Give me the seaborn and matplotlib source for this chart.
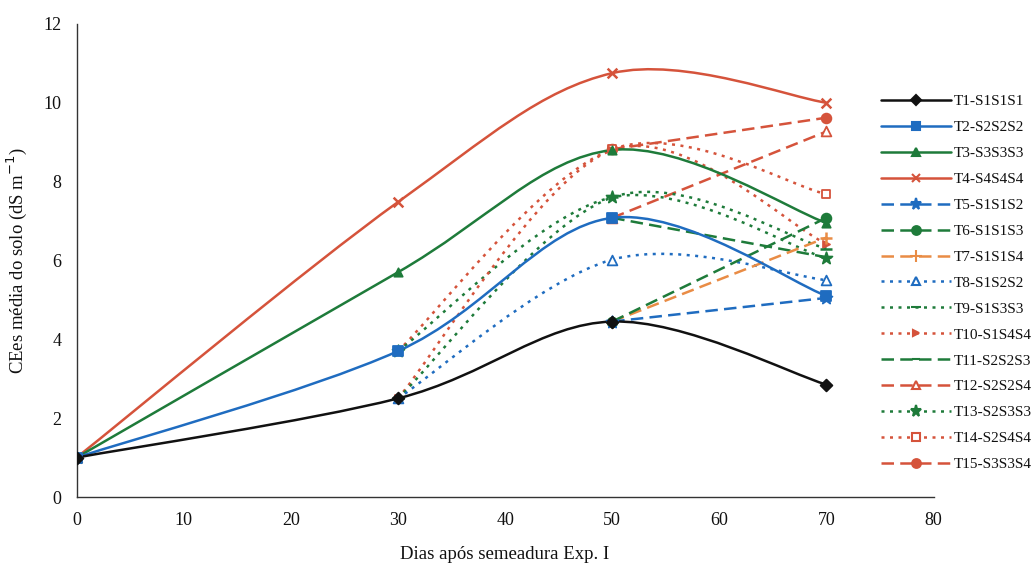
import numpy as np
import pandas as pd
import seaborn as sns
from matplotlib import pyplot as plt
from matplotlib.path import Path
from matplotlib.patches import PathPatch
from matplotlib.lines import Line2D

# days after sowing
days = [0, 30, 50, 70]
nan = np.nan

# mean soil ECes (dS m-1) for each treatment
t1 = [1.0, 2.5, 4.45, 2.85]
t2 = [1.0, 3.7, 7.08, 5.1]
t3 = [1.0, 5.7, 8.8, 6.95]
t4 = [1.0, 7.48, 10.75, 10.0]
t5 = [nan, nan, 4.45, 5.05]
t6 = [nan, nan, 4.45, 7.08]
t7 = [nan, nan, 4.45, 6.58]
t8 = [nan, 2.5, 6.02, 5.5]
t9 = [nan, 2.5, 7.6, 6.3]
t10 = [nan, 2.5, 8.8, 6.42]
t11 = [nan, nan, 7.08, 6.08]
t12 = [nan, nan, 7.08, 9.27]
t13 = [nan, 3.7, 7.6, 6.05]
t14 = [nan, 3.7, 8.82, 7.68]
t15 = [nan, nan, 8.82, 9.62]

labels = ['T1-S1S1S1', 'T2-S2S2S2', 'T3-S3S3S3', 'T4-S4S4S4', 'T5-S1S1S2',
          'T6-S1S1S3', 'T7-S1S1S4', 'T8-S1S2S2', 'T9-S1S3S3', 'T10-S1S4S4',
          'T11-S2S2S3', 'T12-S2S2S4', 'T13-S2S3S3', 'T14-S2S4S4', 'T15-S3S3S4']
values = [t1, t2, t3, t4, t5, t6, t7, t8, t9, t10, t11, t12, t13, t14, t15]

BLACK, BLUE, GREEN, RED, ORANGE = '#111111', '#1f6cc0', '#1e7b3a', '#d5533b', '#e98c45'
SOLID, DASH, DOT = '-', (0, (5, 2.5)), (0, (1.2, 2.2))

# color, linestyle, marker, marker size, hollow
styles = [
    (BLACK, SOLID, 'D', 6, False),
    (BLUE, SOLID, 's', 7, False),
    (GREEN, SOLID, '^', 6, False),
    (RED, SOLID, 'x', 7, False),
    (BLUE, DASH, '*', 9, False),
    (GREEN, DASH, 'o', 7, False),
    (ORANGE, DASH, '+', 9, False),
    (BLUE, DOT, '^', 7, True),
    (GREEN, DOT, '_', 8, False),
    (RED, DOT, '>', 5, False),
    (GREEN, DASH, '_', 7, False),
    (RED, DASH, '^', 7, True),
    (GREEN, DOT, '*', 9, False),
    (RED, DOT, 's', 6, True),
    (RED, DASH, 'o', 7, False),
]


def smooth_path(xs, ys):
    """Smoothed line through the points, like the spreadsheet 'smooth line' option."""
    pts = [(x, y) for x, y in zip(xs, ys) if not np.isnan(y)]
    verts = [pts[0]]
    codes = [Path.MOVETO]
    for i in range(len(pts) - 1):
        p0 = pts[i - 1] if i > 0 else pts[i]
        p1, p2 = pts[i], pts[i + 1]
        p3 = pts[i + 2] if i + 2 < len(pts) else p2
        c1 = (p1[0] + (p2[0] - p0[0]) / 6, p1[1] + (p2[1] - p0[1]) / 6)
        c2 = (p2[0] - (p3[0] - p1[0]) / 6, p2[1] - (p3[1] - p1[1]) / 6)
        verts += [c1, c2, p2]
        codes += [Path.CURVE4] * 3
    return Path(verts, codes)


sns.set_style("white")
plt.rcParams['font.family'] = ['Liberation Serif', 'DejaVu Serif']
plt.rcParams['text.color'] = '#111111'
plt.rcParams['axes.labelcolor'] = '#111111'

fig, ax = plt.subplots(figsize=(10.35, 5.68), dpi=100)
fig.subplots_adjust(left=0.074, right=0.902, top=0.958, bottom=0.125)

handles = []
# draw back to front so the solid lines stay visible
for lab, vals, (col, ls, mk, ms, hollow) in reversed(list(zip(labels, values, styles))):
    df = pd.DataFrame({'dias': days, 'ce': vals}).dropna()
    ax.add_patch(PathPatch(smooth_path(df['dias'].tolist(), df['ce'].tolist()),
                           fill=False, edgecolor=col, linewidth=1.8, linestyle=ls,
                           capstyle='butt', zorder=2))
    face = 'white' if hollow else col
    if mk in ('x', '+', '_'):
        sns.scatterplot(data=df, x='dias', y='ce', marker=mk, color=col, s=ms ** 2,
                        linewidth=1.8, ax=ax, zorder=3, legend=False)
    else:
        sns.scatterplot(data=df, x='dias', y='ce', marker=mk, facecolor=face,
                        edgecolor=col, s=ms ** 2, linewidth=1.3, ax=ax, zorder=3,
                        legend=False)
    handles.append(Line2D([], [], color=col, linestyle=ls, linewidth=1.8, marker=mk,
                          markersize=ms * 0.9, markerfacecolor=face,
                          markeredgecolor=col, markeredgewidth=1.5, label=lab))
handles = handles[::-1]

ax.set_xlim(0, 80)
ax.set_ylim(0, 12)
ax.set_xticks(range(0, 81, 10))
ax.set_yticks(range(0, 13, 2))
for s in ['top', 'right']:
    ax.spines[s].set_visible(False)
for s in ['left', 'bottom']:
    ax.spines[s].set_color('#333333')
    ax.spines[s].set_linewidth(1.0)
ax.tick_params(axis='both', direction='out', length=5, width=1, colors='#111111',
               labelsize=13, pad=6)

ax.set_xlabel('Dias após semeadura Exp. I', fontsize=13.5, labelpad=12)
ax.set_ylabel('CEes média do solo (dS m$^{-1}$)', fontsize=13.5, labelpad=10)

fig.legend(handles=handles, loc='upper left', bbox_to_anchor=(0.845, 0.844),
           bbox_transform=fig.transFigure, frameon=False, fontsize=11,
           handlelength=4.6, handletextpad=0.15, labelspacing=0.8,
           borderaxespad=0.0)

fig.savefig('out.png', dpi=100)
